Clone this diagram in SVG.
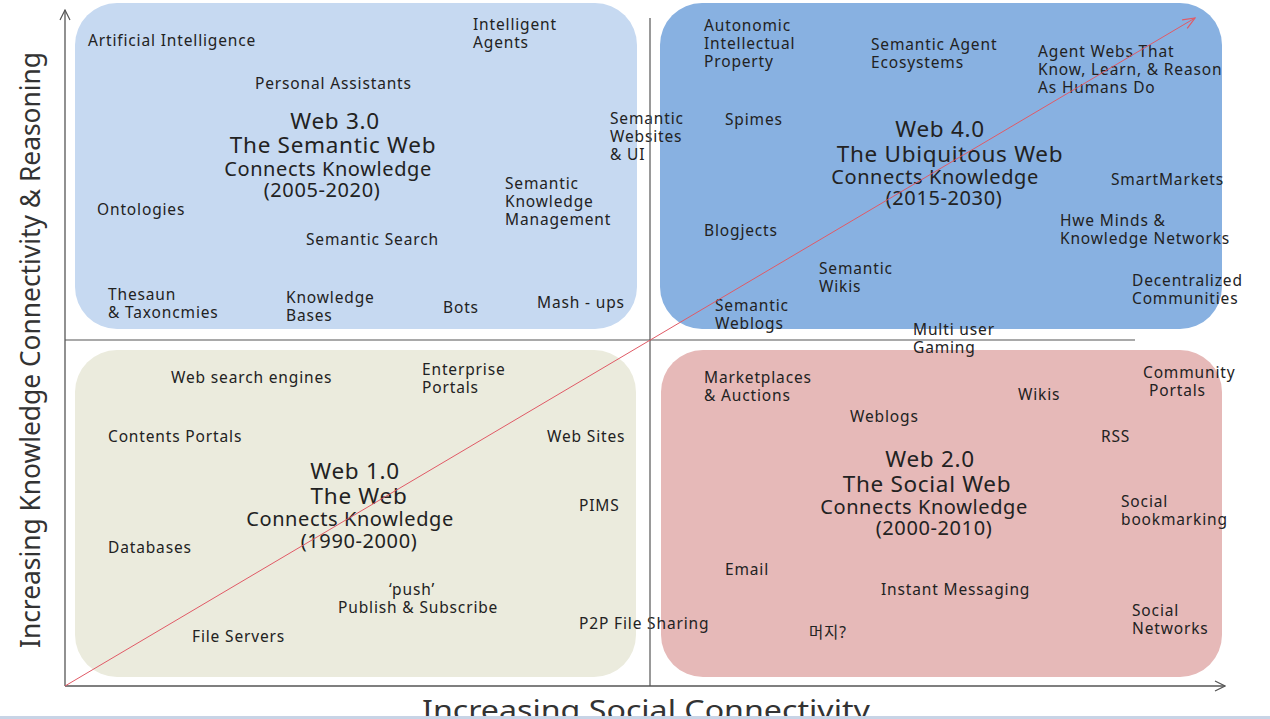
<svg xmlns="http://www.w3.org/2000/svg" width="1270" height="719" viewBox="0 0 1270 719">
<defs>
<style>
text{font-family:"Noto Sans","DejaVu Sans","Noto Sans CJK KR",sans-serif;fill:#222;}
.l{font-size:15.5px;letter-spacing:0.85px;}
.t1{font-size:22.5px;text-anchor:middle;letter-spacing:0.7px;}
.t2{font-size:20px;text-anchor:middle;letter-spacing:0.6px;}
.ax{font-size:28px;fill:#333;}
.axis{stroke:#555;stroke-width:1.3;fill:none;}
.mid{stroke:#555;stroke-width:1.2;fill:none;}
</style>
<marker id="openArrow" viewBox="0 0 12 12" refX="11" refY="6" markerWidth="12" markerHeight="12" markerUnits="userSpaceOnUse" orient="auto">
<path d="M1,1 L11,6 L1,11" fill="none" stroke="#555" stroke-width="1.2"/>
</marker>
<marker id="redArrow" viewBox="0 0 14 14" refX="13" refY="7" markerWidth="14" markerHeight="14" markerUnits="userSpaceOnUse" orient="auto">
<path d="M1,2 L13,7 L1,12" fill="none" stroke="#e05a66" stroke-width="1.2"/>
</marker>
</defs>
<rect x="0" y="0" width="1270" height="719" fill="#ffffff"/>

<g id="web20">
<rect x="661" y="350" width="561" height="327" rx="42" fill="#e6b9b8"/>
<text class="l" x="704" y="383">Marketplaces</text>
<text class="l" x="704" y="401">&amp; Auctions</text>
<text class="l" x="1018" y="400">Wikis</text>
<text class="l" x="1143" y="378">Community</text>
<text class="l" x="1149" y="396">Portals</text>
<text class="l" x="850" y="422">Weblogs</text>
<text class="l" x="1101" y="442">RSS</text>
<text class="t1" x="930" y="467">Web 2.0</text>
<text class="t1" x="927" y="492">The Social Web</text>
<text class="t2" x="924" y="514">Connects Knowledge</text>
<text class="t2" x="934" y="535">(2000-2010)</text>
<text class="l" x="1121" y="507">Social</text>
<text class="l" x="1121" y="525">bookmarking</text>
<text class="l" x="725" y="575">Email</text>
<text class="l" x="881" y="595">Instant Messaging</text>
<text class="l" x="1132" y="616">Social</text>
<text class="l" x="1132" y="634">Networks</text>
<text class="l" x="809" y="638">머지?</text>
</g>

<g id="web40">
<rect x="660" y="3" width="562" height="326" rx="42" fill="#88b1e1"/>
<text class="l" x="704" y="31">Autonomic</text>
<text class="l" x="704" y="49">Intellectual</text>
<text class="l" x="704" y="67">Property</text>
<text class="l" x="871" y="50">Semantic Agent</text>
<text class="l" x="871" y="68">Ecosystems</text>
<text class="l" x="1038" y="57">Agent Webs  That</text>
<text class="l" x="1038" y="75">Know, Learn, &amp; Reason</text>
<text class="l" x="1038" y="93">As Humans  Do</text>
<text class="l" x="725" y="125">Spimes</text>
<text class="t1" x="940" y="137">Web 4.0</text>
<text class="t1" x="950" y="162">The Ubiquitous Web</text>
<text class="t2" x="935" y="184">Connects Knowledge</text>
<text class="t2" x="944" y="205">(2015-2030)</text>
<text class="l" x="1111" y="185">SmartMarkets</text>
<text class="l" x="1060" y="226">Hwe Minds  &amp;</text>
<text class="l" x="1060" y="244">Knowledge  Networks</text>
<text class="l" x="704" y="236">Blogjects</text>
<text class="l" x="819" y="274">Semantic</text>
<text class="l" x="819" y="292">Wikis</text>
<text class="l" x="1132" y="286">Decentralized</text>
<text class="l" x="1132" y="304">Communities</text>
<text class="l" x="715" y="311">Semantic</text>
<text class="l" x="715" y="329">Weblogs</text>
<text class="l" x="913" y="335">Multi user</text>
<text class="l" x="913" y="353">Gaming</text>
</g>

<g id="web30">
<rect x="75" y="3" width="562" height="326" rx="42" fill="#c6d9f1"/>
<text class="l" x="88" y="46">Artificial Intelligence</text>
<text class="l" x="473" y="30">Intelligent</text>
<text class="l" x="473" y="48">Agents</text>
<text class="l" x="255" y="89">Personal  Assistants</text>
<text class="t1" x="335" y="129">Web 3.0</text>
<text class="t1" x="333" y="153">The Semantic Web</text>
<text class="t2" x="328" y="176">Connects Knowledge</text>
<text class="t2" x="322" y="197">(2005-2020)</text>
<text class="l" x="610" y="124">Semantic</text>
<text class="l" x="610" y="142">Websites</text>
<text class="l" x="610" y="160">&amp; UI</text>
<text class="l" x="505" y="189">Semantic</text>
<text class="l" x="505" y="207">Knowledge</text>
<text class="l" x="505" y="225">Management</text>
<text class="l" x="97" y="215">Ontologies</text>
<text class="l" x="306" y="245">Semantic Search</text>
<text class="l" x="108" y="300">Thesaun</text>
<text class="l" x="108" y="318">&amp; Taxoncmies</text>
<text class="l" x="286" y="303">Knowledge</text>
<text class="l" x="286" y="321">Bases</text>
<text class="l" x="443" y="313">Bots</text>
<text class="l" x="537" y="308">Mash - ups</text>
</g>

<g id="web10">
<rect x="75" y="350" width="561" height="327" rx="42" fill="#ebebdd"/>
<text class="l" x="171" y="383">Web search  engines</text>
<text class="l" x="422" y="375">Enterprise</text>
<text class="l" x="422" y="393">Portals</text>
<text class="l" x="108" y="442">Contents  Portals</text>
<text class="l" x="547" y="442">Web Sites</text>
<text class="t1" x="355" y="479">Web 1.0</text>
<text class="t1" x="359" y="504">The Web</text>
<text class="t2" x="350" y="526">Connects Knowledge</text>
<text class="t2" x="359" y="548">(1990-2000)</text>
<text class="l" x="579" y="511">PIMS</text>
<text class="l" x="108" y="553">Databases</text>
<text class="l" x="389" y="595">‘push’</text>
<text class="l" x="338" y="613">Publish &amp; Subscribe</text>
<text class="l" x="579" y="629">P2P File Sharing</text>
<text class="l" x="192" y="642">File Servers</text>
</g>

<g id="connectors">
<line class="mid" x1="650" y1="18" x2="650" y2="686"/>
<line class="mid" x1="65" y1="340" x2="1135" y2="340"/>
<line class="axis" x1="65" y1="686" x2="65" y2="10" marker-end="url(#openArrow)"/>
<line class="axis" x1="65" y1="686" x2="1225" y2="686" marker-end="url(#openArrow)"/>
<line x1="65" y1="686" x2="1195" y2="18" stroke="#e05a66" stroke-width="1" marker-end="url(#redArrow)"/>
</g>

<g id="axis-labels">
<text class="ax" transform="translate(40,350) rotate(-90)" text-anchor="middle" textLength="596" lengthAdjust="spacingAndGlyphs">Increasing Knowledge Connectivity &amp; Reasoning</text>
<text class="ax" x="422" y="720" textLength="448" lengthAdjust="spacingAndGlyphs">Increasing Social Connectivity</text>
</g>
<rect x="0" y="716" width="1270" height="3" fill="#c8d4e6"/>
</svg>
